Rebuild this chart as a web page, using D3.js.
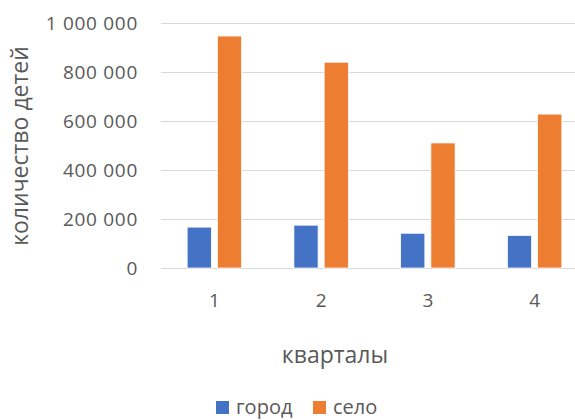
<!DOCTYPE html>
<html>
<head>
<meta charset="utf-8">
<script src="https://cdn.jsdelivr.net/npm/d3@7"></script>
<style>
  html, body { margin: 0; padding: 0; background: #fff; }
  svg { display: block; font-family: "Open Sans", "Noto Sans", sans-serif; }
</style>
</head>
<body>
<svg id="chart" width="575" height="420"></svg>
<script>
const categories = ["1", "2", "3", "4"];
const seriesNames = ["город", "село"];
const cityValues = [167000, 175000, 142000, 133000];
const villageValues = [948000, 841000, 511000, 629000];
const yTicks = [0, 200000, 400000, 600000, 800000, 1000000];
const yTitle = "количество детей";
const xTitle = "кварталы";

const colors = { "город": "#4472C4", "село": "#ED7D31" };
const textColor = "#595959";
const gridColor = "#D9D9D9";

const svg = d3.select("#chart");

const x = d3.scaleBand().domain(categories).range([161, 588])
  .paddingInner(0.49).paddingOuter(0.245);
const xs = d3.scaleBand().domain(seriesNames).range([0, x.bandwidth()]).paddingInner(0.2);
const y = d3.scaleLinear().domain([0, 1000000]).range([268, 23.3]);

const fmt = v => d3.format(",")(v).replace(/,/g, " ");

// gridlines
svg.append("g").selectAll("line").data(yTicks).join("line")
  .attr("x1", 161).attr("x2", 588)
  .attr("y1", d => Math.round(y(d)) + 0.5).attr("y2", d => Math.round(y(d)) + 0.5)
  .attr("stroke", gridColor).attr("stroke-width", 1);

// y tick labels
svg.append("g").selectAll("text").data(yTicks).join("text")
  .attr("x", 138).attr("y", d => y(d))
  .attr("dy", "0.35em")
  .attr("text-anchor", "end")
  .attr("fill", textColor)
  .style("font-size", "19px")
  .style("letter-spacing", "0.7px")
  .text(d => fmt(d));

// bars
const rows = categories.map((c, i) => ({ cat: c, values: [
  { s: "город", v: cityValues[i] }, { s: "село", v: villageValues[i] } ] }));

const groups = svg.append("g").selectAll("g").data(rows).join("g")
  .attr("transform", d => `translate(${x(d.cat)},0)`);
groups.selectAll("rect").data(d => d.values).join("rect")
  .attr("x", d => xs(d.s))
  .attr("width", xs.bandwidth())
  .attr("y", d => y(d.v))
  .attr("height", d => y(0) - y(d.v))
  .attr("fill", d => colors[d.s])
  .attr("stroke", "#ffffff").attr("stroke-width", 0.75);

// x tick labels
svg.append("g").selectAll("text").data(categories).join("text")
  .attr("x", d => x(d) + x.bandwidth() / 2).attr("y", 300)
  .attr("dy", "0.35em")
  .attr("text-anchor", "middle")
  .attr("fill", textColor)
  .style("font-size", "19px")
  .text(d => d);

// axis titles
svg.append("text")
  .attr("transform", "translate(28,146) rotate(-90)")
  .attr("text-anchor", "middle")
  .attr("fill", textColor)
  .style("font-size", "23px")
  .text(yTitle);

svg.append("text")
  .attr("x", 335).attr("y", 363)
  .attr("text-anchor", "middle")
  .attr("fill", textColor)
  .style("font-size", "23px")
  .text(xTitle);

// legend
const legendX = [216, 313];
const lg = svg.append("g").selectAll("g").data(seriesNames).join("g")
  .attr("transform", (d, i) => `translate(${legendX[i]},401)`);
lg.append("rect").attr("width", 13).attr("height", 13).attr("fill", d => colors[d]);
lg.append("text").attr("x", 20).attr("y", 13)
  .attr("fill", textColor)
  .style("font-size", "20px")
  .text(d => d);
</script>
</body>
</html>
